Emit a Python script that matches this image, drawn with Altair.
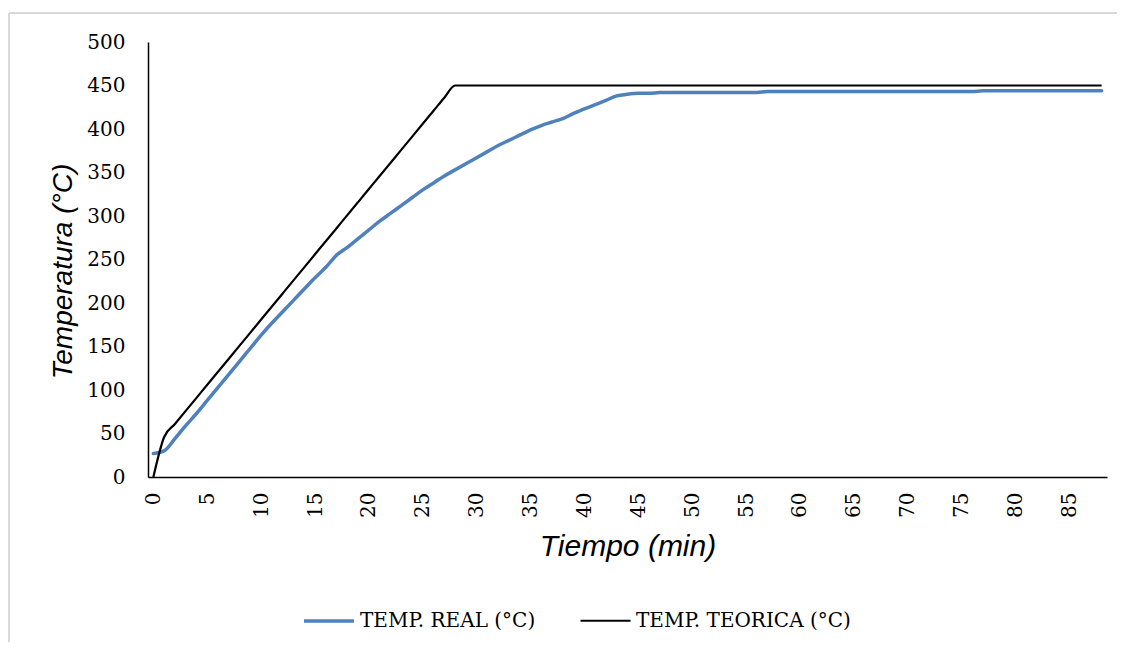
import altair as alt
import pandas as pd

minutes = list(range(0, 89))

temp_real = [27, 30, 44, 59, 73, 88, 103, 118, 133, 148,
             163, 177, 190, 203, 216, 229, 241, 255, 264, 274,
             284, 294, 303, 312, 321, 330, 338, 346, 353, 360,
             367, 374, 381, 387, 393, 399, 404, 408, 412, 418,
             423, 428, 433, 438, 440, 441, 441, 442, 442, 442,
             442, 442, 442, 442, 442, 442, 442, 443, 443, 443,
             443, 443, 443, 443, 443, 443, 443, 443, 443, 443,
             443, 443, 443, 443, 443, 443, 443, 444, 444, 444,
             444, 444, 444, 444, 444, 444, 444, 444, 444]

temp_teorica = [0, 46, 61, 76, 91, 106, 121, 136, 151, 166,
                181, 196, 211, 226, 241, 256, 271, 286, 301, 316,
                331, 346, 361, 376, 391, 406, 421, 436, 450, 450,
                450, 450, 450, 450, 450, 450, 450, 450, 450, 450,
                450, 450, 450, 450, 450, 450, 450, 450, 450, 450,
                450, 450, 450, 450, 450, 450, 450, 450, 450, 450,
                450, 450, 450, 450, 450, 450, 450, 450, 450, 450,
                450, 450, 450, 450, 450, 450, 450, 450, 450, 450,
                450, 450, 450, 450, 450, 450, 450, 450, 450]

series_names = ["TEMP. REAL (°C)", "TEMP. TEORICA (°C)"]
series_colors = ["#4F81BD", "#000000"]
series_widths = [3.5, 2.2]
x_ticks = list(range(0, 90, 5))
y_ticks = list(range(0, 550, 50))

df = pd.DataFrame({
    "Tiempo": minutes * 2,
    "Temp": temp_real + temp_teorica,
    "Serie": [series_names[0]] * len(minutes) + [series_names[1]] * len(minutes),
})

W, H = 959, 435

x_enc = alt.X("Tiempo:Q",
              scale=alt.Scale(domain=[-0.5, 88.5], nice=False, zero=False),
              axis=alt.Axis(values=x_ticks, title="Tiempo (min)", grid=False, ticks=False,
                            labelAngle=270, labelAlign="right", labelBaseline="middle",
                            labelPadding=15, labelFont="DejaVu Serif", labelFontSize=20,
                            labelColor="#000000", domainColor="#000000", domainWidth=1.5,
                            titleFont="Liberation Sans", titleFontStyle="italic",
                            titleFontWeight="normal", titleFontSize=30, titleColor="#000000",
                            titleX=W / 2, titleY=69, titleAlign="center",
                            titleBaseline="middle", labelFlush=False, labelOverlap=False))
y_enc = alt.Y("Temp:Q",
              scale=alt.Scale(domain=[0, 500], nice=False),
              axis=alt.Axis(values=y_ticks, title="Temperatura (°C)", grid=False, ticks=False,
                            labelPadding=23, labelFont="DejaVu Serif", labelFontSize=20,
                            labelColor="#000000", domainColor="#000000", domainWidth=1.5,
                            titleFont="Liberation Sans", titleFontStyle="italic",
                            titleFontWeight="normal", titleFontSize=28, titleColor="#000000",
                            titleAngle=270, titleX=-85, titleY=229, titleAlign="center",
                            titleBaseline="middle", labelFlush=False, labelOverlap=False))

color_enc = alt.Color("Serie:N",
                      scale=alt.Scale(domain=series_names, range=series_colors),
                      legend=alt.Legend(title=None))
width_enc = alt.StrokeWidth("Serie:N",
                            scale=alt.Scale(domain=series_names, range=series_widths),
                            legend=alt.Legend(title=None))

base = alt.Chart(df).encode(x=x_enc, y=y_enc, color=color_enc, strokeWidth=width_enc)

real_line = base.transform_filter(alt.datum.Serie == series_names[0]).mark_line(
    interpolate="monotone", strokeCap="round")
teo_line = base.transform_filter(alt.datum.Serie == series_names[1]).mark_line(
    interpolate="monotone")

frame_left = alt.Chart(df).mark_rule(color="#d9d9d9", strokeWidth=1.5).encode(
    x=alt.value(-139), y=alt.value(-29), y2=alt.value(620))
frame_top = alt.Chart(df).mark_rule(color="#d9d9d9", strokeWidth=1.5).encode(
    x=alt.value(-139), x2=alt.value(1000), y=alt.value(-29))

chart = alt.layer(frame_left, frame_top, real_line, teo_line).properties(
    width=W, height=H,
    autosize=alt.AutoSizeParams(type="none"),
    padding={"left": 140, "top": 34, "right": 10, "bottom": 165},
).configure_view(stroke=None).configure_legend(
    orient="none", legendX=154, legendY=552, direction="horizontal",
    symbolType="stroke", symbolSize=2500, labelFont="DejaVu Serif", labelFontSize=20,
    labelColor="#000000", labelOffset=4, columnPadding=40, labelLimit=400,
)

chart.save("out.html", embed_options={"renderer": "svg", "actions": False})
